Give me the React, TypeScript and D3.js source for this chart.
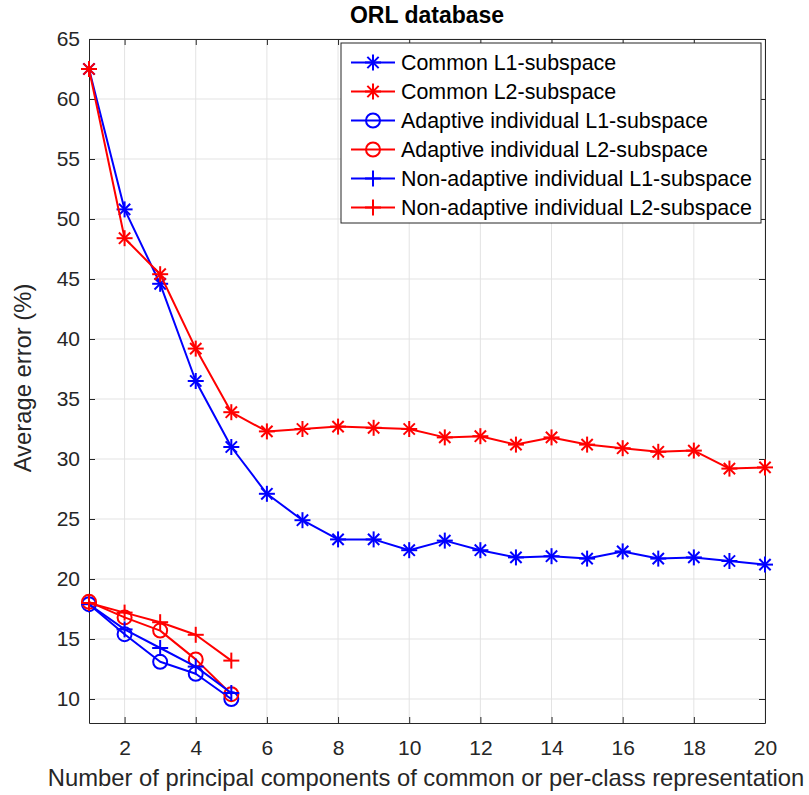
import { useEffect, useRef } from "react";
import * as d3 from "d3";

// ORL database — average error vs number of principal components
const xCommon = [1, 2, 3, 4, 5, 6, 7, 8, 9, 10, 11, 12, 13, 14, 15, 16, 17, 18, 19, 20];
const commonL1 = [62.5, 50.8, 44.6, 36.5, 31.0, 27.1, 24.9, 23.3, 23.3, 22.4, 23.2, 22.4, 21.8, 21.9, 21.7, 22.3, 21.7, 21.8, 21.5, 21.2];
const commonL2 = [62.5, 48.4, 45.4, 39.2, 33.9, 32.3, 32.5, 32.7, 32.6, 32.5, 31.8, 31.9, 31.2, 31.8, 31.2, 30.9, 30.6, 30.7, 29.2, 29.3];
const xIndiv = [1, 2, 3, 4, 5];
const adaptL1 = [17.9, 15.4, 13.1, 12.1, 10.0];
const adaptL2 = [18.1, 16.8, 15.7, 13.3, 10.4];
const nonAdaptL1 = [17.9, 15.8, 14.25, 12.7, 10.5];
const nonAdaptL2 = [18.0, 17.2, 16.4, 15.35, 13.2];

const xTicks = [2, 4, 6, 8, 10, 12, 14, 16, 18, 20];
const yTicks = [10, 15, 20, 25, 30, 35, 40, 45, 50, 55, 60, 65];

const BLUE = "#0000ff";
const RED = "#ff0000";

type Marker = "star" | "circle" | "plus";
const series: { name: string; xs: number[]; ys: number[]; color: string; marker: Marker }[] = [
  { name: "Common L1-subspace", xs: xCommon, ys: commonL1, color: BLUE, marker: "star" },
  { name: "Common L2-subspace", xs: xCommon, ys: commonL2, color: RED, marker: "star" },
  { name: "Adaptive individual L1-subspace", xs: xIndiv, ys: adaptL1, color: BLUE, marker: "circle" },
  { name: "Adaptive individual L2-subspace", xs: xIndiv, ys: adaptL2, color: RED, marker: "circle" },
  { name: "Non-adaptive individual L1-subspace", xs: xIndiv, ys: nonAdaptL1, color: BLUE, marker: "plus" },
  { name: "Non-adaptive individual L2-subspace", xs: xIndiv, ys: nonAdaptL2, color: RED, marker: "plus" },
];

function drawMarker(g: d3.Selection<SVGGElement, unknown, null, undefined>, kind: Marker, cx: number, cy: number, color: string) {
  const r = 8;
  if (kind === "circle") {
    g.append("circle").attr("cx", cx).attr("cy", cy).attr("r", 7)
      .attr("fill", "none").attr("stroke", color).attr("stroke-width", 2);
    return;
  }
  const angles = kind === "plus" ? [0, 90] : [0, 90, 45, 135];
  angles.forEach(a => {
    const rad = (a * Math.PI) / 180;
    const dx = Math.cos(rad) * r, dy = Math.sin(rad) * r;
    g.append("line")
      .attr("x1", cx - dx).attr("y1", cy - dy).attr("x2", cx + dx).attr("y2", cy + dy)
      .attr("stroke", color).attr("stroke-width", 2);
  });
}

export default function App() {
  const svgRef = useRef<SVGSVGElement>(null);

  useEffect(() => {
    const W = 809, H = 795;
    const m = { top: 39, right: 44, bottom: 72, left: 89 };
    const iW = W - m.left - m.right;
    const iH = H - m.top - m.bottom;

    const svg = d3.select(svgRef.current!);
    svg.selectAll("*").remove();
    svg.attr("viewBox", `0 0 ${W} ${H}`);
    const font = "Liberation Sans, Arial, Helvetica, sans-serif";
    const axisCol = "#262626";

    const x = d3.scaleLinear().domain([1, 20]).range([0, iW]);
    const y = d3.scaleLinear().domain([8, 65]).range([iH, 0]);

    const g = svg.append("g").attr("transform", `translate(${m.left},${m.top})`);

    // Grid
    g.append("g").selectAll("line").data(xTicks).join("line")
      .attr("x1", d => x(d)).attr("x2", d => x(d)).attr("y1", 0).attr("y2", iH)
      .attr("stroke", "#e3e3e3").attr("stroke-width", 1);
    g.append("g").selectAll("line").data(yTicks).join("line")
      .attr("x1", 0).attr("x2", iW).attr("y1", d => y(d)).attr("y2", d => y(d))
      .attr("stroke", "#e3e3e3").attr("stroke-width", 1);

    // Axes (box with inward ticks on all sides)
    const styleAxis = (ax: d3.Selection<SVGGElement, unknown, null, undefined>, hideText = false) => {
      ax.attr("font-size", null).attr("font-family", null);
      ax.select(".domain").attr("stroke", axisCol).attr("stroke-width", 1);
      ax.selectAll(".tick line").attr("stroke", axisCol);
      ax.selectAll("text").attr("fill", axisCol).style("font-size", "21px").style("font-family", font);
      if (hideText) ax.selectAll("text").remove();
    };
    g.append("g").attr("transform", `translate(0,${iH})`)
      .call(d3.axisBottom(x).tickValues(xTicks).tickSizeInner(-6).tickSizeOuter(0).tickPadding(17))
      .call(ax => styleAxis(ax));
    g.append("g")
      .call(d3.axisTop(x).tickValues(xTicks).tickSizeInner(-6).tickSizeOuter(0))
      .call(ax => styleAxis(ax, true));
    g.append("g")
      .call(d3.axisLeft(y).tickValues(yTicks).tickSizeInner(-6).tickSizeOuter(0).tickPadding(9))
      .call(ax => styleAxis(ax));
    g.append("g").attr("transform", `translate(${iW},0)`)
      .call(d3.axisRight(y).tickValues(yTicks).tickSizeInner(-6).tickSizeOuter(0))
      .call(ax => styleAxis(ax, true));

    // Series
    series.forEach(s => {
      const pts = s.xs.map((xv, i) => [x(xv), y(s.ys[i])] as [number, number]);
      g.append("path").datum(pts)
        .attr("fill", "none").attr("stroke", s.color).attr("stroke-width", 2)
        .attr("stroke-linejoin", "round")
        .attr("d", d3.line());
      const mg = g.append("g");
      pts.forEach(([px, py]) => drawMarker(mg, s.marker, px, py, s.color));
    });

    // Legend
    const lg = svg.append("g").attr("transform", "translate(341,43)");
    lg.append("rect").attr("x", 0).attr("y", 0).attr("width", 420).attr("height", 180)
      .attr("fill", "#fff").attr("stroke", axisCol).attr("stroke-width", 1);
    series.forEach((s, i) => {
      const cy = 19.5 + i * 29;
      lg.append("line").attr("x1", 10).attr("x2", 54).attr("y1", cy).attr("y2", cy)
        .attr("stroke", s.color).attr("stroke-width", 2);
      const mg = lg.append("g");
      drawMarker(mg, s.marker, 32, cy, s.color);
      lg.append("text").attr("x", 60).attr("y", cy).attr("dy", "0.35em")
        .style("font-size", "21.4px").style("font-family", font).attr("fill", "#000")
        .text(s.name);
    });

    // Title and labels
    svg.append("text").attr("x", m.left + iW / 2).attr("y", 23)
      .attr("text-anchor", "middle").style("font-size", "23px").attr("font-weight", "bold")
      .style("font-family", font).attr("fill", "#000").text("ORL database");
    svg.append("text").attr("x", m.left + iW / 2 - 1).attr("y", 786)
      .attr("text-anchor", "middle").style("font-size", "23.8px")
      .style("font-family", font).attr("fill", axisCol)
      .text("Number of principal components of common or per-class representation");
    svg.append("text")
      .attr("transform", `translate(31,${378}) rotate(-90)`)
      .attr("text-anchor", "middle").style("font-size", "23.8px")
      .style("font-family", font).attr("fill", axisCol)
      .text("Average error (%)");
  }, []);

  return (
    <svg
      ref={svgRef}
      width={809}
      height={795}
      style={{ position: "absolute", left: 0, top: 0, background: "#fff" }}
    />
  );
}
